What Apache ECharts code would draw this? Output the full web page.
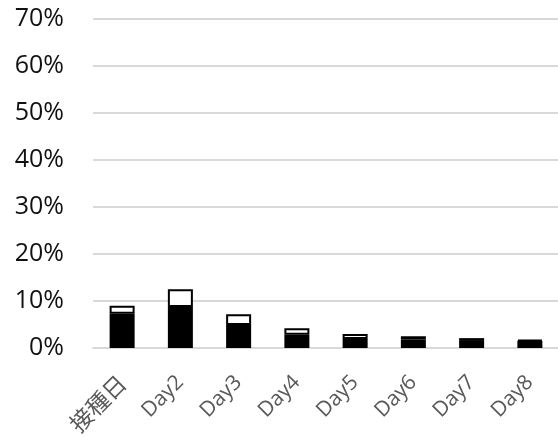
<!DOCTYPE html>
<html><head><meta charset="utf-8">
<script src="https://cdn.jsdelivr.net/npm/echarts@6/dist/echarts.min.js"></script>
<style>html,body{margin:0;padding:0;background:#fff}#c{width:558px;height:438px}</style>
</head><body><div id="c"></div>
<script>
const categories = ['接種日','Day2','Day3','Day4','Day5','Day6','Day7','Day8'];
const lowerValues = [7.3, 8.7, 4.9, 2.8, 1.9, 1.8, 1.5, 1.5];
const upperValues = [1.7, 3.8, 2.3, 1.4, 1.1, 0.7, 0.6, 0.2];
const yTicks = [0, 10, 20, 30, 40, 50, 60, 70];

const chart = echarts.init(document.getElementById('c'), null, {renderer:'canvas'});
chart.setOption({
  animation:false,
  grid:{left:93, right:-1, top:19, bottom:90, containLabel:false, outerBoundsMode:'none'},
  xAxis:{type:'category', data:categories,
    axisLine:{lineStyle:{color:'#d9d9d9', width:2}}, axisTick:{show:false},
    axisLabel:{rotate:45, color:'#595959', fontSize:21, margin:31, interval:0,
      fontFamily:'"Open Sans","Noto Sans CJK JP",sans-serif',
      formatter:function(v){ return /^[\u3000-\u9fff]/.test(v) ? '{cjk|'+v+'}' : v; },
      rich:{cjk:{fontSize:23, color:'#595959', fontFamily:'"Noto Sans CJK JP",sans-serif'}}}},
  yAxis:{type:'value', min:yTicks[0], max:yTicks[yTicks.length-1], interval:10,
    axisLabel:{formatter:'{value}%', color:'#111', fontSize:25, margin:29,
      fontFamily:'"Open Sans","Noto Sans",sans-serif'},
    splitLine:{lineStyle:{color:'#d9d9d9', width:2}},
    axisLine:{show:false}, axisTick:{show:false}},
  series:[
    {type:'bar', stack:'a', data:lowerValues, barWidth:25,
      itemStyle:{color:'#000', borderColor:'#000', borderWidth:2}},
    {type:'bar', stack:'a', data:upperValues, barWidth:25,
      itemStyle:{color:'#fff', borderColor:'#000', borderWidth:2}}
  ]
});
</script></body></html>
